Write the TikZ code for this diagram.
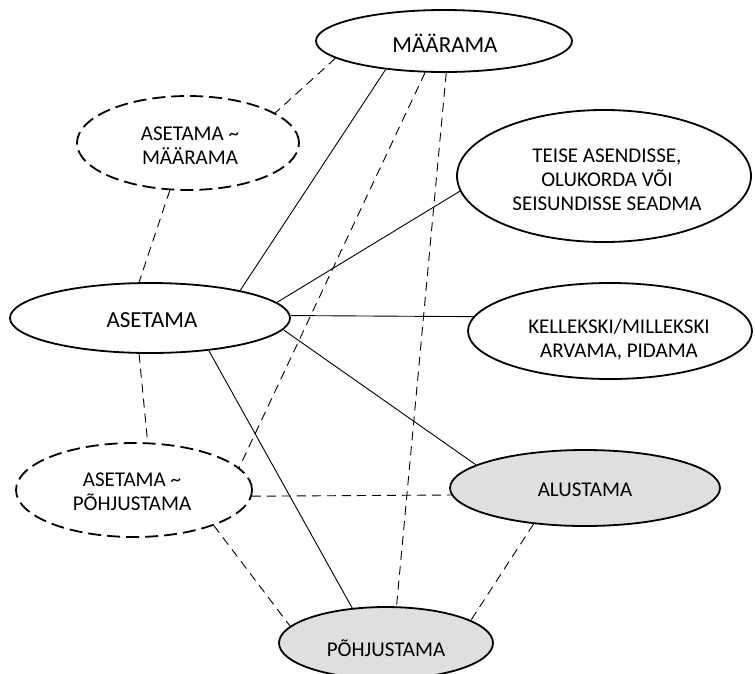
\documentclass[tikz,border=0pt]{standalone}
\usepackage{fontspec}
\setmainfont{Carlito}
\usetikzlibrary{shapes.geometric}
\tikzset{
  ell/.style={ellipse, draw, line width=1.8pt, inner sep=0pt},
  dell/.style={ell, dash pattern=on 13pt off 6pt},
  gell/.style={ell, fill=gray!25},
  txt/.style={font=\fontsize{21}{24}\selectfont, align=center, inner sep=0pt},
  bigtxt/.style={txt, font=\fontsize{23}{26}\selectfont},
  con/.style={line width=0.9pt},
  dcon/.style={con, dash pattern=on 9pt off 6pt},
}
\begin{document}
\begin{tikzpicture}[x=1pt, y=-1pt]
\clip (0,0) rectangle (755,673);
% ellipses
\node[ell, minimum width=256pt, minimum height=62pt] (m) at (444,41) {};
\node[dell, minimum width=222pt, minimum height=94pt] (am) at (188,143) {};
\node[ell, minimum width=294pt, minimum height=132pt] (t) at (604,176) {};
\node[ell, minimum width=284pt, minimum height=96pt] (k) at (610,331) {};
\node[ell, minimum width=280pt, minimum height=70pt] (a) at (150,318) {};
\node[dell, minimum width=236pt, minimum height=94pt] (ap) at (134,490) {};
\node[gell, minimum width=270pt, minimum height=76pt] (al) at (585,488) {};
\node[gell, minimum width=214pt, minimum height=72pt] (p) at (386,643) {};
% texts
\node[bigtxt] (mt) at (445,43) {MÄÄRAMA};
\node[txt] (amt) at (190,146) {ASETAMA \textasciitilde\\MÄÄRAMA};
\node[txt] (tt) at (607,180) {TEISE ASENDISSE,\\OLUKORDA VÕI\\SEISUNDISSE SEADMA};
\node[bigtxt] (at) at (152,320) {ASETAMA};
\node[txt] (kt) at (619,340) {KELLEKSKI/MILLEKSKI\\ARVAMA, PIDAMA};
\node[txt] (apt) at (132,492) {ASETAMA \textasciitilde\\PÕHJUSTAMA};
\node[txt] (alt) at (585,490) {ALUSTAMA};
\node[txt] (pt) at (386,648) {PÕHJUSTAMA};
% solid connectors
\draw[con] (m.206) -- (a.17);
\draw[con] (t.186) -- (a.7);
\draw[con] (k.174) -- (a.1);
\draw[con] (a.355) -- (al.168);
\draw[con] (a.331) -- (p.134);
% dashed connectors
\draw[dcon] (m.189) -- (am.19);
\draw[dcon] (am.249) -- (a.107);
\draw[dcon] (a.253) -- (ap.74);
\draw[dcon] (m.239) -- (ap.12);
\draw[dcon] (m.274) -- (p.74);
\draw[dcon] (ap.357) -- (al.183);
\draw[dcon] (ap.336) -- (p.170);
\draw[dcon] (al.215) -- (p.15);
\end{tikzpicture}
\end{document}
